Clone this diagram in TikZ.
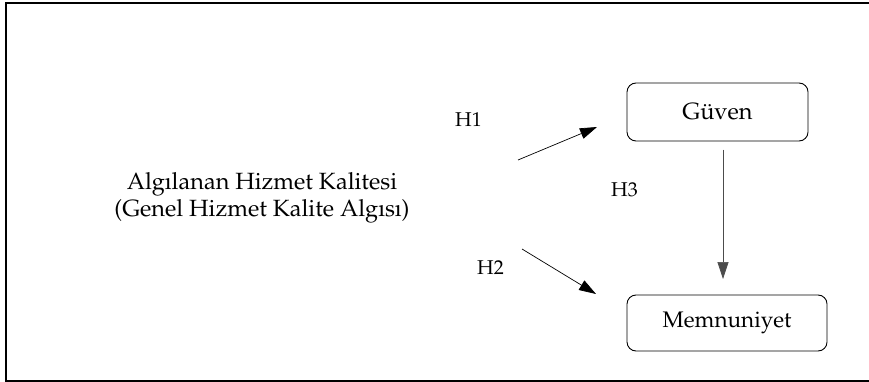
\documentclass[tikz,border=0pt]{standalone}
\usepackage[T1]{fontenc}
\usepackage{mathpazo}
\usetikzlibrary{arrows.meta}
\begin{document}
\begin{tikzpicture}[x=1pt,y=-1pt,
  box/.style={draw=black,line width=0.9pt,rounded corners=9pt,inner sep=0pt},
  bigtxt/.style={font=\fontsize{23.5}{27}\selectfont},
  lbl/.style={font=\fontsize{20}{24}\selectfont},
  arr/.style={line width=0.7pt,-{Triangle[length=17pt,width=11pt]}},
  frame/.style={line width=2pt}]
\useasboundingbox (0,0) rectangle (869,382);
\draw[frame] (870,3) -- (6,3) -- (6,381) -- (870,381);
\node[box,minimum width=181pt,minimum height=58pt] (guven) at (717.5,112) {};
\node[bigtxt] (guvent) at (717.5,112) {G\"uven};
\node[box,minimum width=200pt,minimum height=56pt] (memn) at (727,323) {};
\node[bigtxt,font=\fontsize{22.5}{27}\selectfont] (memnt) at (727,323) {Memnuniyet};
\node[bigtxt,align=center] (ahk) at (262,197.5) {Alg\i lanan Hizmet Kalitesi\\(Genel Hizmet Kalite Alg\i s\i)};
\node[lbl] (h1) at (468.5,120) {H1};
\node[lbl] (h2) at (490.5,268) {H2};
\node[lbl] (h3) at (624.5,190) {H3};
\coordinate (a1s) at (518,160);
\coordinate (a1e) at (597,127);
\coordinate (a2s) at (522,249);
\coordinate (a2e) at (596,294);
\coordinate (a3s) at (723,150);
\coordinate (a3e) at (723,279);
\draw[arr] (a1s) -- (a1e);
\draw[arr] (a2s) -- (a2e);
\draw[arr,draw=black!70,fill=black] (a3s) -- (a3e);
\end{tikzpicture}
\end{document}
